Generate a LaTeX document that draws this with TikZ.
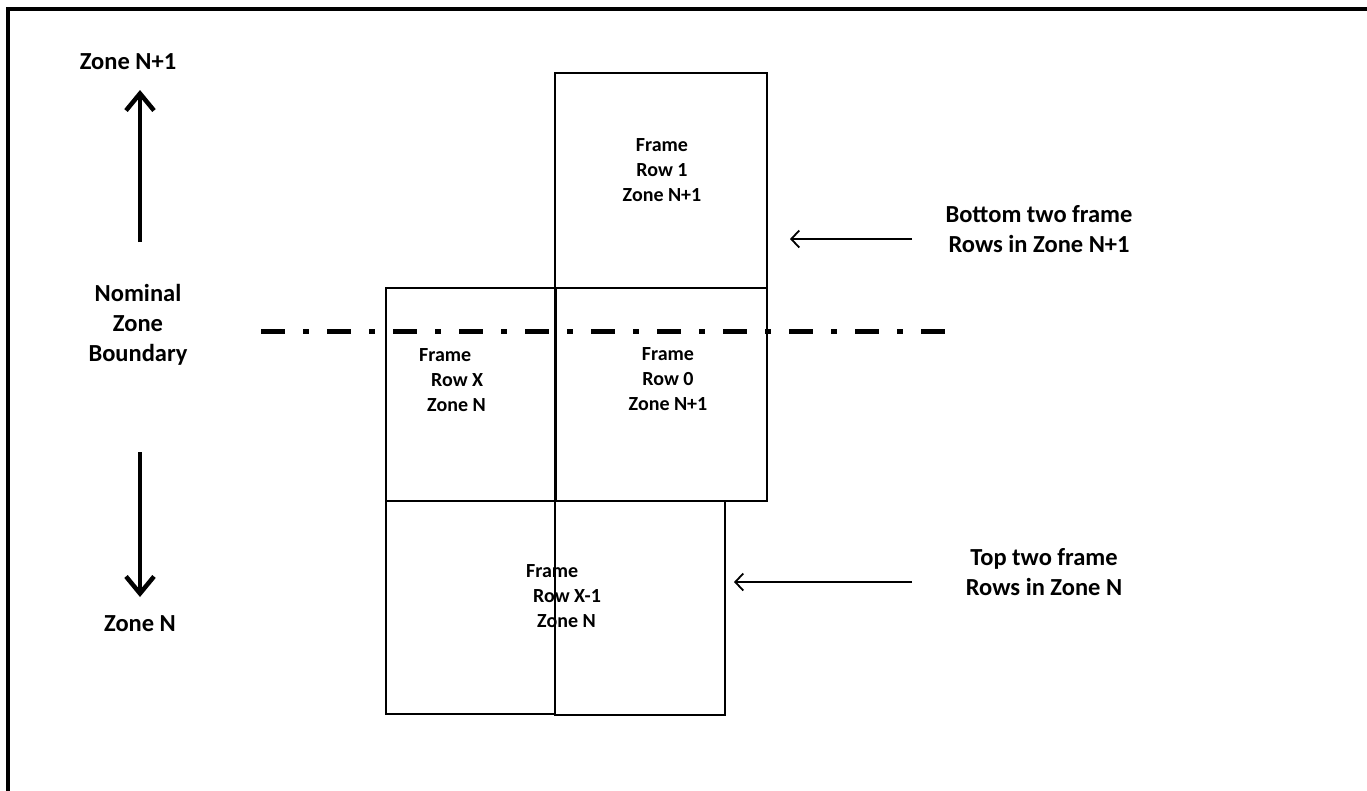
\documentclass[tikz,border=0pt]{standalone}
\usepackage{fontspec}
\setmainfont{Carlito}
\usetikzlibrary{arrows.meta}
\begin{document}
\begin{tikzpicture}[x=1pt,y=-1pt,
  lbl/.style={font=\bfseries\fontsize{24.5}{30}\selectfont, align=center, inner sep=0pt},
  flbl/.style={font=\bfseries\fontsize{20}{25}\selectfont, align=left, inner sep=0pt, anchor=north west},
  clbl/.style={font=\bfseries\fontsize{20}{25}\selectfont, align=center, inner sep=0pt},
  box/.style={draw, line width=2pt},
  thickarrow/.style={line width=4.5pt, -{Straight Barb[length=17pt,width=28pt,line width=4.5pt]}},
  thinarrow/.style={line width=1.8pt, -{Straight Barb[length=8pt,width=17pt,line width=1.8pt]}}]
\useasboundingbox (0,0) rectangle (1367,790);
\fill[white] (0,0) rectangle (1367,790);
% outer frame (top and left)
\draw[line width=4pt] (8,800) -- (8,9) -- (1370,9);
% boxes
\draw[box] (555,73) rectangle (767,288);
\draw[box] (386,288) rectangle (555,501);
\draw[box] (555,288) rectangle (767,501);
\draw[box] (386,501) rectangle (555,714);
\draw[box] (555,501) rectangle (725,715);
\draw[line width=3pt] (555,288) -- (555,501);
% boundary
\draw[line width=5pt, dash pattern=on 24pt off 18pt on 6pt off 18pt] (261,331) -- (945,331);
% left labels
\node[lbl] (zup) at (128,62) {Zone N+1};
\node[lbl] (nom) at (138,325) {Nominal\\Zone\\Boundary};
\node[lbl] (zdn) at (140,624) {Zone N};
\coordinate (upstart) at (140,242);
\coordinate (uptip) at (140,90);
\coordinate (dnstart) at (140,452);
\coordinate (dntip) at (140,597);
\draw[thickarrow] (upstart) -- (uptip);
\draw[thickarrow] (dnstart) -- (dntip);
% box labels
\node[clbl] (r1) at (662,170) {Frame\\Row 1\\Zone N+1};
\node[flbl] (rx) at (419,348) {Frame\\\hspace*{12pt}Row X\\\hspace*{8pt}Zone N};
\node[clbl] (r0) at (668,379) {Frame\\Row 0\\Zone N+1};
\node[flbl] (rxm) at (526,564) {Frame\\\hspace*{7pt}Row X-1\\\hspace*{11pt}Zone N};
% right labels
\node[lbl] (bt) at (1039,229) {Bottom two frame\\Rows in Zone N+1};
\node[lbl] (tt) at (1044,572) {Top two frame\\Rows in Zone N};
\coordinate (a1s) at (912,239);
\coordinate (a1e) at (790,239);
\coordinate (a2s) at (912,582);
\coordinate (a2e) at (734,582);
\draw[thinarrow] (a1s) -- (a1e);
\draw[thinarrow] (a2s) -- (a2e);
\end{tikzpicture}
\end{document}
